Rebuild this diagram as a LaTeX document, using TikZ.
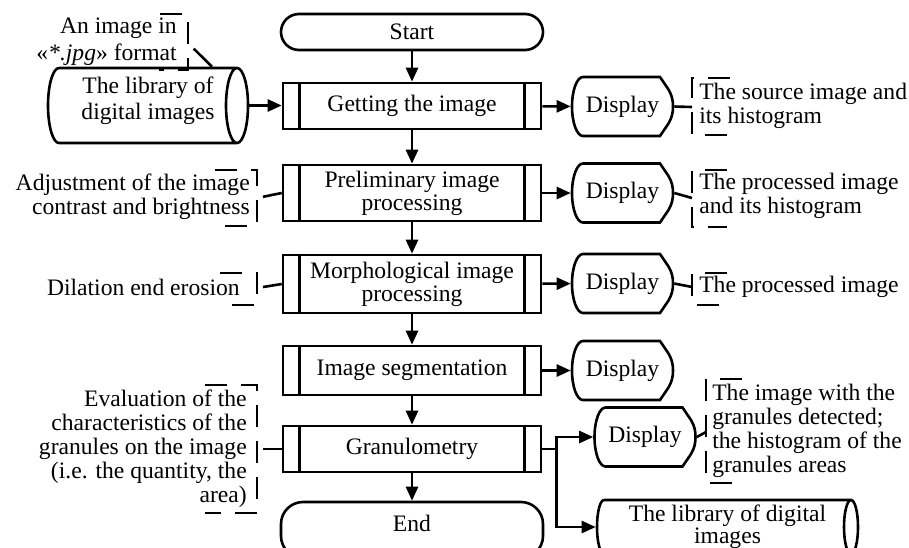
\documentclass[tikz,border=0pt]{standalone}
\usepackage{fontspec}
\setmainfont{Liberation Serif}
\usetikzlibrary{arrows.meta}

% outline of the display symbol round a node
\newcommand{\dispout}[1]{%
  \draw[shift={(#1.center)}] (-39.5,-29.5) -- (37.5,-29.5) -- (46,-17)
    .. controls (49.5,-11) and (50.5,-6) .. (50.5,0)
    .. controls (50.5,6) and (49.5,11) .. (46,17) -- (37.5,29.5) -- (-39.5,29.5)
    .. controls (-45.6,29.5) and (-50.5,16.2) .. (-50.5,0)
    .. controls (-50.5,-16.2) and (-45.6,-29.5) .. (-39.5,-29.5) -- cycle;}
% lying cylinder round a node: half width, half height, end radius
\newcommand{\cylout}[4]{%
  \draw[shift={(#1.center)}] ({-#2+#4},{-#3}) -- ({#2-#4},{-#3})
    ({#2-#4},0) ellipse [x radius=#4, y radius=#3]
    ({-#2+#4},{-#3}) .. controls ({-#2+0.45*#4},{-#3}) and ({-#2},{-0.55*#3}) .. ({-#2},0)
    .. controls ({-#2},{0.55*#3}) and ({-#2+0.45*#4},{#3}) .. ({-#2+#4},{#3}) -- ({#2-#4},{#3});}
% inner bars of a predefined process
\newcommand{\sidebars}[1]{%
  \draw ([xshift=9pt]#1.north west) -- ([xshift=9pt]#1.south west)
        ([xshift=-9pt]#1.north east) -- ([xshift=-9pt]#1.south east);}

\begin{document}
\begin{tikzpicture}[x=0.5pt,y=-0.5pt,line width=1.3pt,
    every node/.style={font=\fontsize{11.8pt}{12pt}\selectfont,inner sep=0pt},
    term/.style={draw,rounded corners=9pt,minimum width=131pt,minimum height=18pt},
    subproc/.style={draw,minimum width=129pt,align=center,
      font=\fontsize{11.8pt}{11.5pt}\selectfont},
    disp/.style={minimum width=50.5pt,minimum height=29.5pt},
    flow/.style={-{Triangle[length=7pt,width=6pt]}},
    note/.style={dash pattern=on 11pt off 7pt},
    lefttext/.style={align=right,anchor=east},
    righttext/.style={align=left,anchor=west}]
  \useasboundingbox (0,0) rectangle (909,547);
  \clip (0,0) rectangle (909,547);

  % main column
  \node[term] (start) at (412,32) {Start};
  \node[subproc,minimum height=23pt] (getting) at (412,106) {Getting the image};
  \node[subproc,minimum height=28pt] (prelim) at (412,193) {Preliminary image\\processing};
  \node[subproc,minimum height=29pt] (morph) at (412,284) {Morphological image\\processing};
  \node[subproc,minimum height=24.5pt] (segm) at (412,370.5) {Image segmentation};
  \node[subproc,minimum height=23pt] (granul) at (412,449) {Granulometry};
  \node[term,minimum height=28pt,rounded corners=11pt,text depth=7pt] (end) at (412,530) {End};
  \foreach \n in {getting,prelim,morph,segm,granul} {\sidebars{\n}}

  \draw[flow] (start) -- (getting);
  \draw[flow] (getting) -- (prelim);
  \draw[flow] (prelim) -- (morph);
  \draw[flow] (morph) -- (segm);
  \draw[flow] (segm) -- (granul);
  \draw[flow] (granul) -- (end);

  % libraries
  \node[minimum width=100pt,minimum height=37.5pt,align=center,text depth=7.5pt,
    font=\fontsize{11.8pt}{13pt}\selectfont] (lib1) at (148,105.5) {The library of\\digital images};
  \cylout{lib1}{100}{37.5}{11}
  \node[minimum width=130.5pt,minimum height=27pt,align=center,
    font=\fontsize{11.8pt}{11pt}\selectfont] (lib2) at (727.5,527) {The library of digital\\images};
  \cylout{lib2}{130.5}{27}{7}
  \draw[flow] (lib1.east) -- (lib1.east -| getting.west);

  % displays
  \node[disp] (disp1) at (622.5,106.5) {Display};
  \node[disp] (disp2) at (622.5,193) {Display};
  \node[disp] (disp3) at (622.5,283.5) {Display};
  \node[disp] (disp4) at (622.5,370.5) {Display};
  \node[disp] (disp5) at (645,437) {Display};
  \foreach \n in {1,...,5} {\dispout{disp\n}}

  \draw[flow] (getting) -- (disp1);
  \draw[flow] (prelim) -- (disp2);
  \draw[flow] (morph) -- (disp3);
  \draw[flow] (segm) -- (disp4);
  \coordinate (fork) at ([xshift=7pt]granul.east);
  \draw (granul.east) -- (fork);
  \draw[flow] (fork) |- (disp5.west);
  \draw[flow] (fork) |- (lib2.west);

  % comments on the left
  \node[lefttext,font=\fontsize{11.8pt}{13.5pt}\selectfont] (noteAtxt) at (178,41.5)
    {An image in\\«\textit{*.jpg}» format};
  \draw[note] (160,14) -- (188,14) -- (188,70) -- (159,70);
  \coordinate (noteA) at (188,43);
  \draw[shorten <=4pt] (noteA) -- ([xshift=32pt]lib1.north);

  \node[lefttext] (noteBtxt) at (251,196.5) {Adjustment of the image\\contrast and brightness};
  \draw[note] (215,170) -- (257,170) -- (257,226) -- (225,226);
  \coordinate (noteB) at (257,198);
  \draw[shorten <=3pt] (noteB) -- (prelim.west);

  \node[lefttext] (noteCtxt) at (241,287) {Dilation end erosion};
  \draw[note] (220,273) -- (257,273) -- (257,305) -- (232,305);
  \coordinate (noteC) at (257,288);
  \draw[shorten <=3pt] (noteC) -- (morph.west);

  \node[lefttext] (noteDtxt) at (248,448.5) {Evaluation of the\\characteristics of the\\granules on the image\\(i.e. the quantity, the\\area)};
  \draw[note] (205,385) -- (257,385) -- (257,513) -- (205,513);
  \coordinate (noteD) at (257,449);
  \draw[shorten <=3pt] (noteD) -- (granul.west);

  % comments on the right
  \node[righttext] (noteEtxt) at (698,105.5) {The source image and\\its histogram};
  \draw[note] (730,78) -- (692,78) -- (692,135) -- (730,135);
  \coordinate (noteE) at (692,107);
  \draw (disp1.east) -- (noteE);

  \node[righttext] (noteFtxt) at (698,195.5) {The processed image\\and its histogram};
  \draw[note] (727,170) -- (692,170) -- (692,227) -- (727,227);
  \coordinate (noteF) at (692,198);
  \draw (disp2.east) -- (noteF);

  \node[righttext] (noteGtxt) at (698,287) {The processed image};
  \draw[note] (727,273) -- (692,273) -- (692,305) -- (720,305);
  \coordinate (noteG) at (692,287);
  \draw (disp3.east) -- (noteG);

  \node[righttext] (noteHtxt) at (711,431) {The image with the\\granules detected;\\the histogram of the\\granules areas};
  \draw[note] (742,379) -- (706,379) -- (706,483) -- (733,483);
  \coordinate (noteH) at (706,432);
  \draw (disp5.east) -- (noteH);
\end{tikzpicture}
\end{document}
